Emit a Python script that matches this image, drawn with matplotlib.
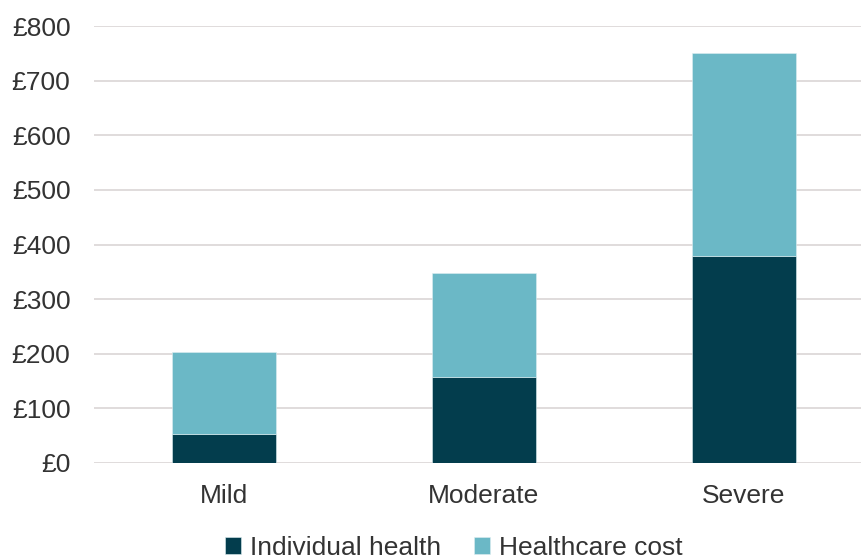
import matplotlib

matplotlib.use("Agg")

import matplotlib.pyplot as plt
import numpy as np
from matplotlib.ticker import FuncFormatter

categories = ["Mild", "Moderate", "Severe"]
individual_health = [54, 158, 379]
healthcare_cost = [150, 189, 372]
y_ticks = [0, 100, 200, 300, 400, 500, 600, 700, 800]

DARK = "#033d4d"
LIGHT = "#6bb8c6"
TEXT = "#333333"

plt.rcParams["font.family"] = ["Liberation Sans", "DejaVu Sans"]

fig = plt.figure(figsize=(8.61, 5.6), dpi=100)
ax = fig.add_axes([94 / 861, 1 - 463 / 560, 767 / 861, (463 - 26) / 560])

x = np.arange(len(categories))
ax.bar(x, individual_health, width=0.4, color=DARK, edgecolor="#dfeef1", linewidth=0.4,
       label="Individual health", zorder=3)
ax.bar(x, healthcare_cost, width=0.4, bottom=individual_health, color=LIGHT,
       edgecolor="#dfeef1", linewidth=0.4, label="Healthcare cost", zorder=3)

ax.set_xlim(-0.5, -0.5 + 767 / 260)
ax.set_ylim(0, 800)
ax.set_yticks(y_ticks)
ax.yaxis.set_major_formatter(FuncFormatter(lambda v, _: f"£{v:.0f}"))
ax.set_xticks(x)
ax.set_xticklabels(categories)
ax.grid(axis="y", color="#e0dcdc", linewidth=1.4, zorder=0)
for side in ("top", "right", "left", "bottom"):
    ax.spines[side].set_visible(False)
ax.tick_params(axis="both", length=0, labelsize=19, colors=TEXT)
ax.tick_params(axis="y", pad=17)
ax.tick_params(axis="x", pad=15)

fig.legend(loc="center", bbox_to_anchor=(0.527, 1 - 548 / 560), ncol=2, frameon=False,
           fontsize=19, handlelength=0.6, handleheight=0.6, handletextpad=0.35,
           columnspacing=1.25, labelcolor=TEXT)

fig.savefig("out.png", dpi=100, facecolor="white")
